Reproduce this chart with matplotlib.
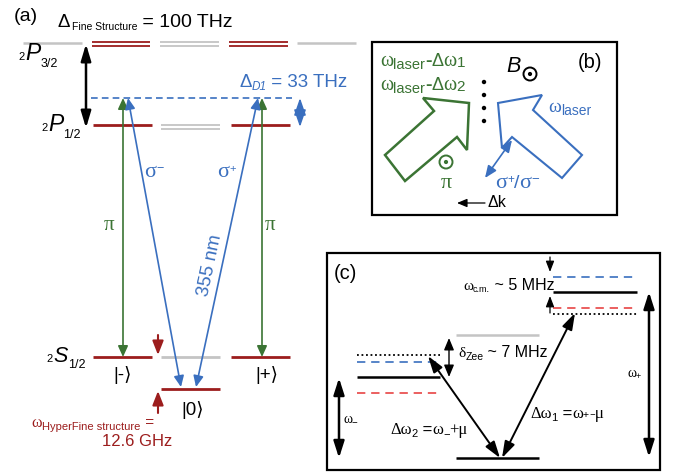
import matplotlib
matplotlib.use('Agg')
import matplotlib.pyplot as plt
from matplotlib.patches import Polygon, Circle, Rectangle

plt.rcParams['font.family'] = ['Liberation Sans', 'DejaVu Sans']

RED = '#9c1d1d'
GREEN = '#3b7434'
BLUE = '#3a6fbf'
GRAY = '#c4c4c4'
SERIF = ['Liberation Serif', 'DejaVu Serif']

# quoted splittings
fine_structure = '100 THz'
detuning_d1 = '33 THz'
hyperfine = '12.6 GHz'
wavelength = '355 nm'
com_mode = '5 MHz'
zeeman = '7 MHz'

# (a) level layout: three Zeeman columns, level heights in px
cols_a = [(93, 152), (161, 220), (231, 290)]
y_p32, y_p12, y_virt, y_s12, y_zero = 44, 125, 98, 357, 389

# (c) level layout
left_c, mid_c, right_c = (357, 440), (456, 539), (553, 637)
y_cm = (277, 292, 308, 314)      # blue, black, red, dotted (upper mode)
y_low = (355, 362, 377, 393)     # dotted, blue, black, red (lower mode)
y_gray_c, y_ground_c = 335, 458

fig = plt.figure(figsize=(6.77, 4.74), dpi=100)
ax = fig.add_axes([0, 0, 1, 1])
ax.set_xlim(0, 677)
ax.set_ylim(474, 0)
ax.axis('off')
R = fig.canvas.get_renderer()


def rich(x, y, parts, color='k', ha='left'):
    # parts: (text, size, dy, kwargs) laid out left to right on one baseline
    texts = []
    cx = x
    for s, size, dy, kw in parts:
        kw = dict(kw)
        pad = kw.pop('pad', 0)
        kw.setdefault('color', color)
        cx += pad
        t = ax.text(cx, y + dy, s, fontsize=size, va='baseline', ha='left', **kw)
        cx += t.get_window_extent(R).width
        texts.append(t)
    if ha == 'center':
        w = cx - x
        for t in texts:
            px, py = t.get_position()
            t.set_position((px - w / 2, py))
    return cx


def arrow(x0, y0, x1, y1, color='k', style='<|-|>', ms=10, hl=1.0, hw=0.3, lw=1.2):
    ax.annotate('', xy=(x1, y1), xytext=(x0, y0),
                arrowprops=dict(arrowstyle=f'{style},head_length={hl},head_width={hw}',
                                color=color, lw=lw, mutation_scale=ms,
                                shrinkA=0, shrinkB=0))


def level(x0, x1, y, color, lw=2.0, double=False, ls='-'):
    if double:
        ax.plot([x0, x1], [y - 2, y - 2], color=color, lw=1.3, solid_capstyle='butt')
        ax.plot([x0, x1], [y + 2, y + 2], color=color, lw=1.3, solid_capstyle='butt')
    else:
        ax.plot([x0, x1], [y, y], color=color, lw=lw, ls=ls, solid_capstyle='butt')


# ---------------- (a) level scheme ----------------
ax.text(14, 21, '(a)', fontsize=14, va='baseline')
rich(58, 27, [('Δ', 13.5, 0, {}), ('Fine Structure', 7.5, 3, {'pad': 1}),
              (' = ' + fine_structure, 14, 0, {})])

# 2P3/2 manifold
level(23, 82, y_p32 - 1, GRAY, lw=1.8)
level(92, 150, y_p32, RED, double=True)
level(160, 219, y_p32, GRAY, double=True)
level(229, 288, y_p32, RED, double=True)
level(297, 356, y_p32 - 1, GRAY, lw=1.8)

# 2P1/2
level(*cols_a[0], y_p12, RED)
level(*cols_a[1], y_p12 + 2, GRAY, double=True)
level(*cols_a[2], y_p12, RED)

# 2S1/2
level(*cols_a[0], y_s12, RED)
level(*cols_a[1], y_s12, GRAY)
level(*cols_a[2], y_s12, RED)
level(*cols_a[1], y_zero, RED)

rich(18, 60, [('2', 8, 0, {}), ('P', 16.5, 0, {'style': 'italic', 'pad': 1}),
              ('3/2', 9, 7, {})])
rich(41, 131, [('2', 8, 0, {}), ('P', 16.5, 0, {'style': 'italic', 'pad': 1}),
               ('1/2', 9, 7, {})])
rich(46, 362, [('2', 8, 0, {}), ('S', 15.5, 0, {'style': 'italic', 'pad': 1}),
               ('1/2', 9, 6, {})])

arrow(86, y_p32, 86, y_p12 + 3, ms=10, hl=1.0, hw=0.3, lw=1.8)

# virtual level and its detuning
ax.plot([91, 292], [y_virt, y_virt], color=BLUE, lw=1.2, ls=(0, (4, 2.5)))
rich(239, 87, [('Δ', 13.5, 0, {}), ('D1', 8.5, 3, {'style': 'italic'}),
               (' = ' + detuning_d1, 13.5, 0, {})], color=BLUE)
arrow(300, y_virt, 300, y_p12 + 2, color=BLUE, ms=8, hl=1.3, hw=0.45, lw=1.2)

# Raman beams
arrow(123, y_virt, 123, y_s12, color=GREEN, ms=6, hl=1.1, hw=0.5, lw=1.2)
arrow(262, y_virt, 262, y_s12, color=GREEN, ms=6, hl=1.1, hw=0.5, lw=1.2)
arrow(128, y_virt, 181, y_zero - 2, color=BLUE, ms=6, hl=1.1, hw=0.5, lw=1.2)
arrow(258, y_virt, 196, y_zero - 2, color=BLUE, ms=6, hl=1.1, hw=0.5, lw=1.2)

rich(104, 230, [('π', 15, 0, {'family': SERIF})], color=GREEN)
rich(265, 230, [('π', 15, 0, {'family': SERIF})], color=GREEN)
rich(144, 177, [('σ', 16, 0, {'family': SERIF}), ('−', 9, -5, {})], color=BLUE)
rich(217, 177, [('σ', 16, 0, {'family': SERIF}), ('+', 8, -5, {})], color=BLUE)
ax.text(210, 265, wavelength, fontsize=13.5, color=BLUE, rotation=78,
        ha='center', va='center')

rich(113, 380, [('|-⟩', 13.5, 0, {})])
rich(255, 380, [('|+⟩', 13.5, 0, {})])
rich(181, 415, [('|0⟩', 13.5, 0, {})])

# hyperfine splitting
arrow(158, 335, 158, 355, color=RED, style='-|>', ms=6, hl=1.4, hw=0.55, lw=1.5)
arrow(158, 413, 158, 391, color=RED, style='-|>', ms=6, hl=1.4, hw=0.55, lw=1.5)
rich(31, 427, [('ω', 11.5, 0, {'family': SERIF}), ('HyperFine structure', 8, 3, {'pad': 1}),
               (' =', 11, 0, {})], color=RED)
ax.text(102, 446, hyperfine, fontsize=12, color=RED, va='baseline')

# ---------------- (b) beam geometry ----------------
ax.add_patch(Rectangle((372, 42), 245, 173, fill=False, lw=1.6, ec='k'))
ax.text(578, 68, '(b)', fontsize=14.5, va='baseline')

for yl, sub in ((66, '1'), (90, '2')):
    rich(380, yl, [('ω', 14.5, 0, {'family': SERIF}), ('laser', 10.5, 3, {}),
                   ('-', 14, 0, {'weight': 'bold'}), ('Δ', 13, 0, {}),
                   ('ω', 14.5, 0, {'family': SERIF}), (sub, 11, 1, {})], color=GREEN)

ax.text(506, 72, 'B', fontsize=15.5, style='italic', va='baseline')
ax.add_patch(Circle((530, 74), 6.5, fill=False, lw=1.4, ec='k'))
ax.add_patch(Circle((530, 74), 1.4, color='k'))

for yd in (82, 95, 108, 121):
    ax.add_patch(Circle((484, yd), 1.5, color='k'))

green_beam = [(385, 155), (434, 111), (423, 98), (469, 103), (467, 150),
              (457, 137), (405, 181)]
blue_beam = [(498, 103), (542, 95), (533, 110), (582, 155), (562, 178),
             (512, 137), (502, 148)]
ax.add_patch(Polygon(green_beam, closed=True, fill=False, ec=GREEN, lw=1.8, joinstyle='miter'))
ax.add_patch(Polygon(blue_beam, closed=True, fill=False, ec=BLUE, lw=1.5, joinstyle='miter'))

ax.add_patch(Circle((446, 162), 6.5, fill=False, lw=1.4, ec=GREEN))
ax.add_patch(Circle((446, 162), 1.4, color=GREEN))
ax.text(441, 188, 'π', fontsize=16, color=GREEN, family=SERIF, va='baseline')

rich(548, 112, [('ω', 14, 0, {'family': SERIF}), ('laser', 10, 3, {})], color=BLUE)
arrow(485, 178, 512, 140, color=BLUE, ms=6, hl=1.2, hw=0.5, lw=1.2)
rich(495, 188, [('σ', 16, 0, {'family': SERIF}), ('+', 8.5, -5, {}), ('/', 14, 0, {}),
                ('σ', 16, 0, {'family': SERIF}), ('−', 9.5, -5, {})], color=BLUE)

arrow(485, 203, 457, 203, style='-|>', ms=5, hl=1.2, hw=0.5, lw=0.9)
ax.text(488, 207, 'Δk', fontsize=11.5, va='baseline')

# ---------------- (c) motional sidebands ----------------
ax.add_patch(Rectangle((327, 253), 333, 217, fill=False, lw=1.6, ec='k'))
ax.text(334, 279, '(c)', fontsize=14.5, va='baseline')

# upper (centre-of-mass) sideband levels
level(*right_c, y_cm[0], BLUE, lw=1.2, ls=(0, (5, 3.5)))
level(*right_c, y_cm[1], 'k', lw=1.8)
level(*right_c, y_cm[2], '#e84444', lw=1.2, ls=(0, (5, 3.5)))
level(*right_c, y_cm[3], 'k', lw=1.3, ls=(0, (1, 1.5)))

# lower sideband levels
level(*left_c, y_low[0], 'k', lw=1.3, ls=(0, (1, 1.5)))
level(*left_c, y_low[1], BLUE, lw=1.2, ls=(0, (5, 3.5)))
level(*left_c, y_low[2], 'k', lw=1.8)
level(*left_c, y_low[3], '#e84444', lw=1.2, ls=(0, (5, 3.5)))

level(*mid_c, y_gray_c, GRAY, lw=1.8)
level(*mid_c, y_ground_c, 'k', lw=1.8)

arrow(550, 257, 550, 272, style='-|>', ms=5, hl=1.3, hw=0.5, lw=0.9)
arrow(550, 313, 550, 296, style='-|>', ms=5, hl=1.3, hw=0.5, lw=0.9)
rich(463, 290, [('ω', 11, 0, {'family': SERIF}), ('c.m.', 6.5, 2, {}),
                (' ~ ' + com_mode, 11.5, 0, {})])

arrow(449, 338, 449, 377, ms=6, hl=1.2, hw=0.5, lw=1.0)
rich(458, 357, [('δ', 11, 0, {'family': SERIF}), ('Zee', 7.5, 3, {}),
                (' ~ ' + zeeman, 11.5, 0, {})])

arrow(428, 356, 500, 458, ms=10, hl=1.0, hw=0.32, lw=1.4)
arrow(575, 313, 502, 458, ms=10, hl=1.0, hw=0.32, lw=1.4)
arrow(339, 378, 339, 458, ms=10, hl=1.0, hw=0.32, lw=1.8)
arrow(649, 292, 649, 457, ms=10, hl=1.0, hw=0.32, lw=1.8)

rich(390, 434, [('Δω', 12, 0, {'family': SERIF}), ('2', 8, 3, {}),
                (' =', 12, 0, {}), ('ω', 12, 0, {'family': SERIF}), ('−', 8, 3, {}),
                ('+μ', 12, 0, {'family': SERIF})])
rich(530, 418, [('Δω', 12, 0, {'family': SERIF}), ('1', 8, 3, {}),
                (' =', 12, 0, {}), ('ω', 12, 0, {'family': SERIF}), ('+', 7.5, 0, {}),
                ('-μ', 12.5, 0, {'family': SERIF})])
rich(343, 423, [('ω', 10, 0, {'family': SERIF}), ('−', 7, 3, {})])
rich(627, 377, [('ω', 10, 0, {'family': SERIF}), ('+', 6.5, 2, {})])

fig.savefig('out.png', dpi=100)
